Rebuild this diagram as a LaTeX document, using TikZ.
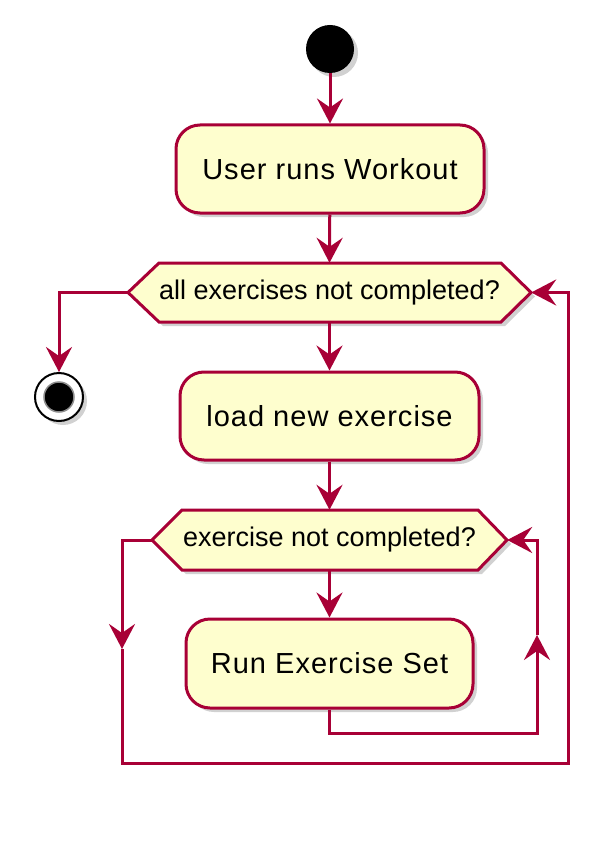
\documentclass[tikz,border=0pt]{standalone}
\usepackage{fontspec}
\setmainfont{Liberation Sans}
\newfontfamily\boxfont[LetterSpace=3.5]{Liberation Sans}
\usetikzlibrary{arrows.meta,shadows,calc}
\definecolor{puml}{HTML}{A80036}
\definecolor{pfill}{HTML}{FEFECE}
\begin{document}
\begin{tikzpicture}[x=1pt,y=-1pt,
  shad/.style={drop shadow={shadow xshift=4pt,shadow yshift=-4pt,opacity=0.3,fill=black!60}},
  actbox/.style={draw=puml,fill=pfill,line width=3pt,rounded corners=24pt,shad,
    inner sep=0pt,font=\boxfont\fontsize{29}{32}\selectfont},
  hexfill/.style={draw=puml,fill=pfill,line width=3pt,line join=miter,shad},
  hextext/.style={inner sep=0pt,font=\fontsize{27}{30}\selectfont},
  conn/.style={draw=puml,line width=3pt},
  arr/.style={conn,-{Stealth[length=25pt,width=26pt,inset=9pt]}},
]
\useasboundingbox (0,0) rectangle (608,845);
% start
\node[circle,fill=black,minimum size=48pt,inner sep=0pt,shad] (start) at (330,49) {};
% box 1
\node[actbox,minimum width=308pt,minimum height=88pt] (b1) at (330,169) {User runs Workout};
% hex 1
\path[hexfill] (128,292.5) -- (159,263) -- (501,263) -- (531,292.5) -- (501,322) -- (159,322) -- cycle;
\node[hextext,minimum width=403pt,minimum height=59pt] (h1) at (329.5,292.5) {all exercises not completed?};
% end
\node[circle,draw=black,line width=2pt,fill=white,minimum size=48pt,inner sep=0pt,shad] (end) at (59,397) {};
\node[circle,fill=black,draw=black!45,line width=1.5pt,minimum size=30pt,inner sep=0pt] (endin) at (end.center) {};
% box 2
\node[actbox,minimum width=299pt,minimum height=88pt] (b2) at (329.5,416) {load new exercise};
% hex 2
\path[hexfill] (152,540) -- (182,510) -- (478,510) -- (507,540) -- (478,570) -- (182,570) -- cycle;
\node[hextext,minimum width=355pt,minimum height=60pt] (h2) at (329.5,540) {exercise not completed?};
% box 3
\node[actbox,minimum width=287pt,minimum height=89pt] (b3) at (329.5,663.5) {Run Exercise Set};
% coordinates
\coordinate (lm) at (122,649);
\coordinate (lb) at (122,763);
\coordinate (rb) at (568,763);
\coordinate (ib) at (329.5,733);
\coordinate (ir) at (537,733);
\coordinate (rm) at (537,635);
% connectors
\draw[arr] (start) -- (b1);
\draw[arr] (b1) -- (h1.north);
\draw[arr] (h1.west) -| (end.north);
\draw[arr] (h1.south) -- (b2);
\draw[arr] (b2) -- (h2.north);
\draw[arr] (h2.south) -- (b3);
\draw[arr] (b3.south) -- (ib) -- (ir) -- (rm);
\draw[arr] (rm) |- (h2.east);
\draw[arr] (h2.west) -| (lm);
\draw[arr] (lm) -- (lb) -- (rb) |- (h1.east);
\end{tikzpicture}
\end{document}
